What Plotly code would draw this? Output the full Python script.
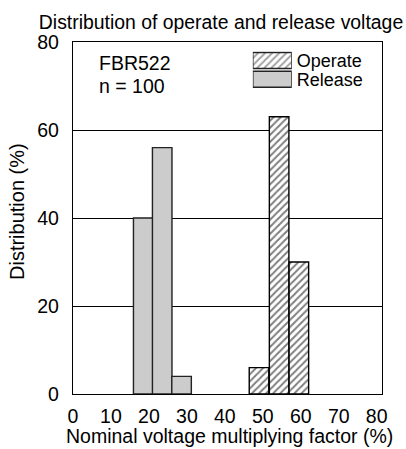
import plotly.graph_objects as go

release_x = [18.5, 23.5, 28.6]
release_y = [40, 56, 4]
operate_x = [49.0, 54.3, 59.5]
operate_y = [6, 63, 30]
bar_width = 5.15
x_ticks = [0, 10, 20, 30, 40, 50, 60, 70, 80]
y_ticks = [0, 20, 40, 60, 80]
legend_names = ["Release", "Operate"]
legend_fill = [1, 1]

FONT = "Liberation Sans, Arial, sans-serif"
FS = 19.5

fig = go.Figure()
fig.add_trace(go.Bar(
    x=operate_x, y=operate_y, width=bar_width, name="Operate",
    marker=dict(color="white", line=dict(color="black", width=1.4),
                pattern=dict(shape="/", fgcolor="black", bgcolor="white", size=5, solidity=0.4)),
    showlegend=False,
))
fig.add_trace(go.Bar(
    x=release_x, y=release_y, width=bar_width, name="Release",
    marker=dict(color="#cccccc", line=dict(color="#222222", width=1.4)),
    showlegend=False,
))
# legend swatches
fig.add_trace(go.Bar(
    x=legend_fill, y=legend_names, orientation="h", width=0.86,
    xaxis="x2", yaxis="y2", showlegend=False, hoverinfo="skip",
    marker=dict(color=["#cccccc", "white"], line=dict(color="#222222", width=1.4),
                pattern=dict(shape=["", "/"], fgcolor="black", bgcolor=["#cccccc", "white"],
                             size=5, solidity=0.4)),
))

fig.update_layout(
    width=406, height=449,
    margin=dict(l=73, r=24, t=42, b=55),
    paper_bgcolor="white", plot_bgcolor="white",
    font=dict(family=FONT, color="black", size=FS),
    barmode="overlay",
    showlegend=False,
    title=dict(text="Distribution of operate and release voltage",
               x=221 / 406, xanchor="center", xref="container",
               y=1 - 22 / 449, yanchor="middle", yref="container",
               font=dict(size=19.4)),
    xaxis=dict(range=[0, 81.4], tickvals=x_ticks, showgrid=False, zeroline=False,
               showline=True, linecolor="black", linewidth=1.3, mirror=True,
               ticks="", ticklen=0, ticklabelstandoff=4, automargin=False,
               tickfont=dict(size=FS)),
    yaxis=dict(range=[0, 80], tickvals=y_ticks, showgrid=True, gridcolor="black", gridwidth=1,
               zeroline=False, showline=True, linecolor="black", linewidth=1.3, mirror=True,
               ticks="", ticklen=0, ticklabelstandoff=9, automargin=False,
               tickfont=dict(size=FS)),
    xaxis2=dict(domain=[0.582, 0.708], anchor="y2", range=[0, 1], visible=False),
    yaxis2=dict(domain=[0.8676, 0.974], anchor="x2", type="category",
                categoryorder="array", categoryarray=legend_names, range=[-0.5, 1.5],
                tickmode="array", tickvals=legend_names, ticktext=legend_names,
                side="right", showline=False, showgrid=False, zeroline=False,
                ticks="", ticklen=0, ticklabelstandoff=4, automargin=False,
                tickfont=dict(size=18)),
)

fig.add_annotation(x=0.077, y=0.939, xref="paper", yref="paper", xanchor="left", yanchor="middle",
                   text="FBR522", showarrow=False, font=dict(size=FS))
fig.add_annotation(x=0.077, y=0.874, xref="paper", yref="paper", xanchor="left", yanchor="middle",
                   text="n = 100", showarrow=False, font=dict(size=FS))
fig.add_annotation(x=0.508, y=-0.119, xref="paper", yref="paper", xanchor="center", yanchor="middle",
                   text="Nominal voltage multiplying factor (%)", showarrow=False, font=dict(size=FS))
fig.add_annotation(x=-0.179, y=0.519, xref="paper", yref="paper", xanchor="center", yanchor="middle",
                   text="Distribution (%)", textangle=-90, showarrow=False, font=dict(size=20))

fig.write_html("out.html", config={"displayModeBar": False},
               post_script="document.body.style.margin='0';")
